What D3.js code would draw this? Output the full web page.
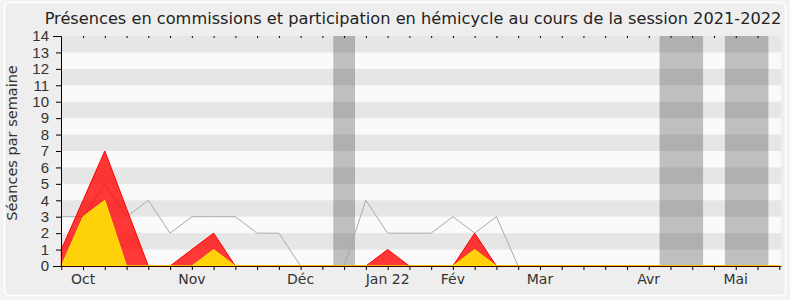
<!DOCTYPE html>
<html>
<head>
<meta charset="utf-8">
<script src="https://cdn.jsdelivr.net/npm/d3@7"></script>
<style>
  body { margin: 0; background: #f3f3f3; }
  svg { display: block; font-family: "DejaVu Sans", sans-serif; }
</style>
</head>
<body>
<div class="chart"></div>
<script>
// one value per week, from the first week of the session (late september) on
let weeks = d3.range(34);
let hemicycle = [1, 4, 7, 3.5, 0, 0, 1, 2, 0, 0, 0, 0, 0, 0, 0, 1, 0, 0, 0, 2, 0, 0, 0, 0, 0, 0, 0, 0, 0, 0, 0, 0, 0, 0];
let hemicycle_interv = [0, 3, 4, 0, 0, 0, 0, 1, 0, 0, 0, 0, 0, 0, 0, 0, 0, 0, 0, 1, 0, 0, 0, 0, 0, 0, 0, 0, 0, 0, 0, 0, 0, 0];
let commissions = [3, 3, 5, 3, 4, 2, 3, 3, 3, 2, 2, 0, 0, 0, 4, 2, 2, 2, 3, 2, 3, 0, 0, 0, 0, 0, 0, 0, 0, 0, 0, 0, 0, 0];
// holiday periods, first and last week
let vacances = [[13, 13], [28, 29], [31, 32]];
let month_labels = [
    {week: 1, label: "Oct"},
    {week: 6, label: "Nov"},
    {week: 11, label: "Déc"},
    {week: 15, label: "Jan 22"},
    {week: 18, label: "Fév"},
    {week: 22, label: "Mar"},
    {week: 27, label: "Avr"},
    {week: 31, label: "Mai"}
];
let y_ticks = d3.range(0, 15);

let W = 790, H = 300;
let margin = {top: 36, right: 9, bottom: 34, left: 61},
    width = W - margin.left - margin.right,
    height = H - margin.top - margin.bottom;

let svg = d3.select(".chart")
    .append("svg")
    .attr("width", W)
    .attr("height", H);

// frame
svg.append("rect")
    .attr("x", 4.5).attr("y", 2.5)
    .attr("width", 781).attr("height", 293)
    .attr("rx", 5)
    .attr("fill", "#eeeeee")
    .attr("stroke", "#ffffff")
    .attr("stroke-width", 1.5);

svg.append("text")
    .attr("x", 413)
    .attr("y", 24)
    .attr("text-anchor", "middle")
    .attr("font-size", 16.2)
    .attr("fill", "#222")
    .text("Présences en commissions et participation en hémicycle au cours de la session 2021-2022");

let g = svg.append("g")
    .attr("transform", "translate(" + margin.left + "," + margin.top + ")");

let x = d3.scaleLinear()
    .domain([0, 33.08])
    .range([0.3, width]);

let y = d3.scaleLinear()
    .domain([0, 14])
    .range([height, 0]);

// plot background
g.append("rect")
    .attr("width", width)
    .attr("height", height)
    .attr("fill", "#fafafa");

// holidays
g.selectAll(".vac")
    .data(vacances)
    .enter()
    .append("rect")
    .attr("x", d => x(d[0] - 0.5))
    .attr("y", 0)
    .attr("width", d => x(d[1] + 0.5) - x(d[0] - 0.5))
    .attr("height", height)
    .attr("fill", "#bfbfbf");

// stripes
g.selectAll(".stripe")
    .data(y_ticks.filter(d => d % 2 == 1))
    .enter()
    .append("rect")
    .attr("x", 0)
    .attr("y", d => y(d + 1))
    .attr("width", width)
    .attr("height", d => y(d) - y(d + 1))
    .attr("fill", "#000")
    .attr("fill-opacity", 0.08);

// commissions line
let line = d3.line()
    .x((d, i) => x(weeks[i]))
    .y(d => y(d));

g.append("path")
    .datum(commissions)
    .attr("d", line)
    .attr("fill", "none")
    .attr("stroke", "#aaaaaa")
    .attr("stroke-width", 1);

let area = d3.area()
    .x((d, i) => x(weeks[i]))
    .y0(y(0))
    .y1(d => y(d));

g.append("path")
    .datum(hemicycle)
    .attr("d", area)
    .attr("fill", "rgba(255,0,0,0.78)")
    .attr("stroke", "#ff0000")
    .attr("stroke-width", 1);

g.append("path")
    .datum(hemicycle_interv)
    .attr("d", area)
    .attr("fill", "#ffd10a")
    .attr("stroke", "#ffee00")
    .attr("stroke-width", 1);

// axes
let xAxis = g.append("g")
    .attr("transform", "translate(0," + height + ")")
    .call(d3.axisBottom(x).tickValues(weeks).tickSize(4).tickSizeOuter(0).tickFormat(""));
xAxis.select(".domain").attr("stroke", "#3a0000");

g.append("g")
    .call(d3.axisTop(x).tickValues(weeks.slice(1, 33)).tickSize(-2).tickFormat(""))
    .select(".domain").remove();

g.selectAll(".month")
    .data(month_labels)
    .enter()
    .append("text")
    .attr("x", d => x(d.week))
    .attr("y", height + 18)
    .attr("text-anchor", "middle")
    .attr("font-size", 14)
    .attr("fill", "#333")
    .text(d => d.label);

let yAxis = g.append("g")
    .call(d3.axisLeft(y).tickValues(y_ticks).tickSizeInner(5).tickSizeOuter(8).tickFormat(d3.format("d")));
yAxis.selectAll("text")
    .attr("font-size", 15)
    .attr("fill", "#333")
    .attr("x", -12);
yAxis.select(".domain").attr("stroke", "#000");

svg.append("text")
    .attr("transform", "translate(17,143)rotate(-90)")
    .attr("text-anchor", "middle")
    .attr("font-size", 14.5)
    .attr("fill", "#333")
    .text("Séances par semaine");
</script>
</body>
</html>
